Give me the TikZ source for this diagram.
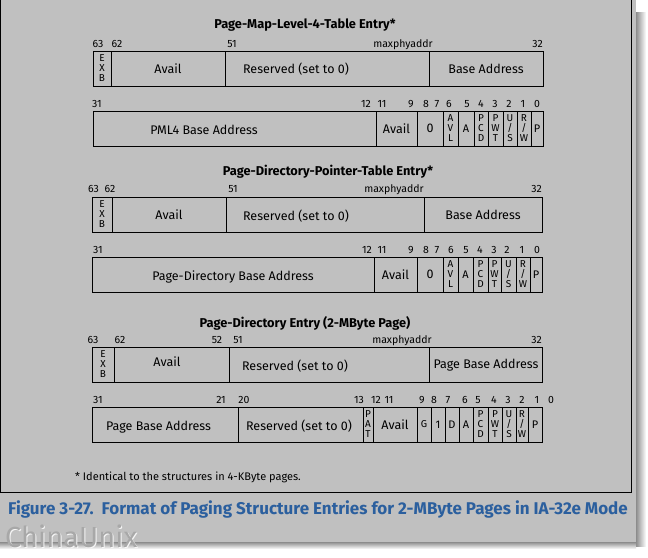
\documentclass[tikz,border=0pt]{standalone}
\usepackage{fontspec}
\setmainfont{Fira Sans}
\definecolor{bgc}{RGB}{192,192,192}
\definecolor{capc}{RGB}{43,95,158}
\definecolor{wmk}{RGB}{168,168,168}
\tikzset{
 fld/.style={draw=black, line width=0.8pt, inner sep=0pt, outer sep=0pt, anchor=north west, font=\fontsize{12.5}{14}\selectfont},
 stk/.style={font=\fontsize{10}{10}\selectfont, align=center},
 sml/.style={font=\fontsize{11}{12}\selectfont},
 bitl/.style={font=\fontsize{10.5}{12}\selectfont, inner sep=0pt},
 ftxt/.style={font=\fontsize{12.5}{14}\selectfont, anchor=base, inner sep=0pt},
 ttl/.style={font=\bfseries\fontsize{12.8}{14}\selectfont, anchor=base, inner sep=0pt},
 wm/.style={anchor=base west, inner sep=0pt, font=\fontsize{29}{30}\selectfont},
}
\newcommand\bitfield[6][]{\node[fld,minimum width={(#4)-(#3)},minimum height=35,#1] (#2) at (#3,#5) {#6};}
\newcommand\bitlbl[5][base]{\node[bitl,anchor=#1] (#2) at (#3,#4) {#5};}
\newcommand\fieldtext[4]{\node[ftxt] (#1) at (#2,#3) {#4};}
\begin{document}
\begin{tikzpicture}[x=1pt,y=-1pt]
\useasboundingbox (0,0) rectangle (648,557);
% background and shadow
\fill[white] (0,0) rectangle (648,557);
\shade[left color=black!45, right color=white] (636,12) rectangle (646,546);
\shade[top color=black!45, bottom color=white] (0,542) rectangle (636,549);
\fill[bgc] (0,0) rectangle (636,542);
\draw[line width=1pt] (0.5,0) -- (0.5,492) -- (631,492) -- (631,0);

% ---------- PML4 entry ----------
\node[ttl] (t1) at (305,28) {Page-Map-Level-4-Table Entry*};
\bitlbl{l1a}{98}{47}{63}
\bitlbl{l1b}{117}{47}{62}
\bitlbl{l1c}{232}{47}{51}
\bitlbl{l1d}{403}{47}{maxphyaddr}
\bitlbl[base east]{l1e}{543}{47}{32}
\bitfield[stk]{r1exb}{93}{111}{51}{E\\X\\B}
\bitfield{r1avail}{111}{225}{51}{Avail}
\bitfield{r1res}{225}{429}{51}{}
\bitfield{r1base}{429}{543}{51}{Base Address}
\fieldtext{r1rest}{296}{73}{Reserved (set to 0)}

\bitlbl{l2a}{97}{107.5}{31}
\bitlbl{l2b}{366}{107.5}{12}
\bitlbl{l2c}{382}{107.5}{11}
\bitlbl{l2d}{411}{107.5}{9}
\bitlbl{l2e}{426}{107.5}{8}
\bitlbl{l2f}{437}{107.5}{7}
\bitlbl{l2g}{449}{107.5}{6}
\bitlbl{l2h}{467}{107.5}{5}
\bitlbl{l2i}{481}{107.5}{4}
\bitlbl{l2j}{495}{107.5}{3}
\bitlbl{l2k}{509}{107.5}{2}
\bitlbl{l2l}{523}{107.5}{1}
\bitlbl{l2m}{537}{107.5}{0}
\bitfield{r2pml}{93}{376}{111}{}
\fieldtext{r2pmlt}{204}{134}{PML4 Base Address}
\bitfield{r2avail}{376}{417}{111}{Avail}
\bitfield{r2zero}{417}{443}{111}{0}
\bitfield[stk]{r2avl}{443}{458}{111}{A\\V\\L}
\bitfield[sml]{r2a}{458}{474}{111}{A}
\bitfield[stk]{r2pcd}{474}{488}{111}{P\\C\\D}
\bitfield[stk]{r2pwt}{488}{503}{111}{P\\W\\T}
\bitfield[stk]{r2us}{503}{517}{111}{U\\/\\S}
\bitfield[stk]{r2rw}{517}{531}{111}{R\\/\\W}
\bitfield[sml]{r2p}{531}{543}{111}{P}

% ---------- PDPT entry ----------
\node[ttl] (t2) at (328,175) {Page-Directory-Pointer-Table Entry*};
\bitlbl{l3a}{93.5}{192}{63}
\bitlbl{l3b}{110}{192}{62}
\bitlbl{l3c}{233}{192}{51}
\bitlbl{l3d}{394}{192}{maxphyaddr}
\bitlbl[base east]{l3e}{542}{192}{32}
\bitfield[stk]{r3exb}{92}{112}{197}{E\\X\\B}
\bitfield{r3avail}{112}{226}{197}{Avail}
\bitfield{r3res}{226}{424}{197}{}
\bitfield{r3base}{424}{542}{197}{Base Address}
\fieldtext{r3rest}{296}{220}{Reserved (set to 0)}

\bitlbl{l4a}{98}{253.5}{31}
\bitlbl{l4b}{367}{253.5}{12}
\bitlbl{l4c}{382}{253.5}{11}
\bitlbl{l4d}{411}{253.5}{9}
\bitlbl{l4e}{426}{253.5}{8}
\bitlbl{l4f}{437}{253.5}{7}
\bitlbl{l4g}{451}{253.5}{6}
\bitlbl{l4h}{466}{253.5}{5}
\bitlbl{l4i}{480}{253.5}{4}
\bitlbl{l4j}{494}{253.5}{3}
\bitlbl{l4k}{507}{253.5}{2}
\bitlbl{l4l}{522}{253.5}{1}
\bitlbl{l4m}{537}{253.5}{0}
\bitfield{r4pda}{92}{374}{257}{}
\fieldtext{r4pdat}{233}{280}{Page-Directory Base Address}
\bitfield{r4avail}{374}{417}{257}{Avail}
\bitfield{r4zero}{417}{443}{257}{0}
\bitfield[stk]{r4avl}{443}{458}{257}{A\\V\\L}
\bitfield[sml]{r4a}{458}{473}{257}{A}
\bitfield[stk]{r4pcd}{473}{488}{257}{P\\C\\D}
\bitfield[stk]{r4pwt}{488}{501}{257}{P\\W\\T}
\bitfield[stk]{r4us}{501}{516}{257}{U\\/\\S}
\bitfield[stk]{r4rw}{516}{530}{257}{R\\/\\W}
\bitfield[sml]{r4p}{530}{542}{257}{P}

% ---------- PD entry (2-MByte page) ----------
\node[ttl] (t3) at (305,327) {Page-Directory Entry (2-MByte Page)};
\bitlbl{l5a}{93}{343}{63}
\bitlbl{l5b}{120}{343}{62}
\bitlbl{l5c}{217}{343}{52}
\bitlbl{l5d}{238}{343}{51}
\bitlbl{l5e}{402}{343}{maxphyaddr}
\bitlbl[base east]{l5f}{542}{343}{32}
\bitfield[stk]{r5exb}{92}{114}{347}{E\\X\\B}
\bitfield{r5avail}{114}{229}{347}{}
\bitfield{r5res}{229}{429}{347}{}
\bitfield{r5pba}{429}{542}{347}{}
\fieldtext{r5availt}{167}{366.5}{Avail}
\fieldtext{r5rest}{295}{370}{Reserved (set to 0)}
\fieldtext{r5pbat}{486}{368}{Page Base Address}

\bitlbl{l6a}{98}{403.5}{31}
\bitlbl{l6b}{221}{403.5}{21}
\bitlbl{l6c}{244}{403.5}{20}
\bitlbl{l6d}{359}{403.5}{13}
\bitlbl{l6e}{376}{403.5}{12}
\bitlbl{l6f}{389}{403.5}{11}
\bitlbl{l6g}{422}{403.5}{9}
\bitlbl{l6h}{434}{403.5}{8}
\bitlbl{l6i}{448}{403.5}{7}
\bitlbl{l6j}{465}{403.5}{6}
\bitlbl{l6k}{478}{403.5}{5}
\bitlbl{l6l}{494}{403.5}{4}
\bitlbl{l6m}{508}{403.5}{3}
\bitlbl{l6n}{522}{403.5}{2}
\bitlbl{l6o}{537}{403.5}{1}
\bitlbl{l6p}{551}{403.5}{0}
\bitfield{r6pba}{92}{238}{407}{}
\fieldtext{r6pbat}{158.5}{430}{Page Base Address}
\bitfield{r6res}{238}{363}{407}{}
\fieldtext{r6rest}{299}{430}{Reserved (set to 0)}
\bitfield[stk]{r6pat}{363}{373}{407}{P\\A\\T}
\bitfield{r6avail}{373}{417}{407}{Avail}
\bitfield[stk]{r6g}{417}{431}{407}{G}
\bitfield[sml]{r6one}{431}{445}{407}{1}
\bitfield[sml]{r6d}{445}{459}{407}{D}
\bitfield[sml]{r6a}{459}{473}{407}{A}
\bitfield[stk]{r6pcd}{473}{488}{407}{P\\C\\D}
\bitfield[stk]{r6pwt}{488}{502}{407}{P\\W\\T}
\bitfield[stk]{r6us}{502}{516}{407}{U\\/\\S}
\bitfield[stk]{r6rw}{516}{528}{407}{R\\/\\W}
\bitfield[sml]{r6p}{528}{542}{407}{P}

% ---------- footnote, caption, watermark ----------
\node[anchor=base west, inner sep=0pt, font=\fontsize{11}{12}\selectfont] (fn) at (75,480) {* Identical to the structures in 4-KByte pages.};
\node[anchor=base west, inner sep=0pt, text=capc, font=\bfseries\fontsize{17}{19}\selectfont] (cap) at (8,514) {Figure 3-27.\ \ Format of Paging Structure Entries for 2-MByte Pages in IA-32e Mode};
\node[wm, text=white!85!bgc] (wmhi) at (6,548) {ChinaUnix};
\node[wm, text=wmk] (wmtx) at (5,547) {ChinaUnix};
\end{tikzpicture}
\end{document}
